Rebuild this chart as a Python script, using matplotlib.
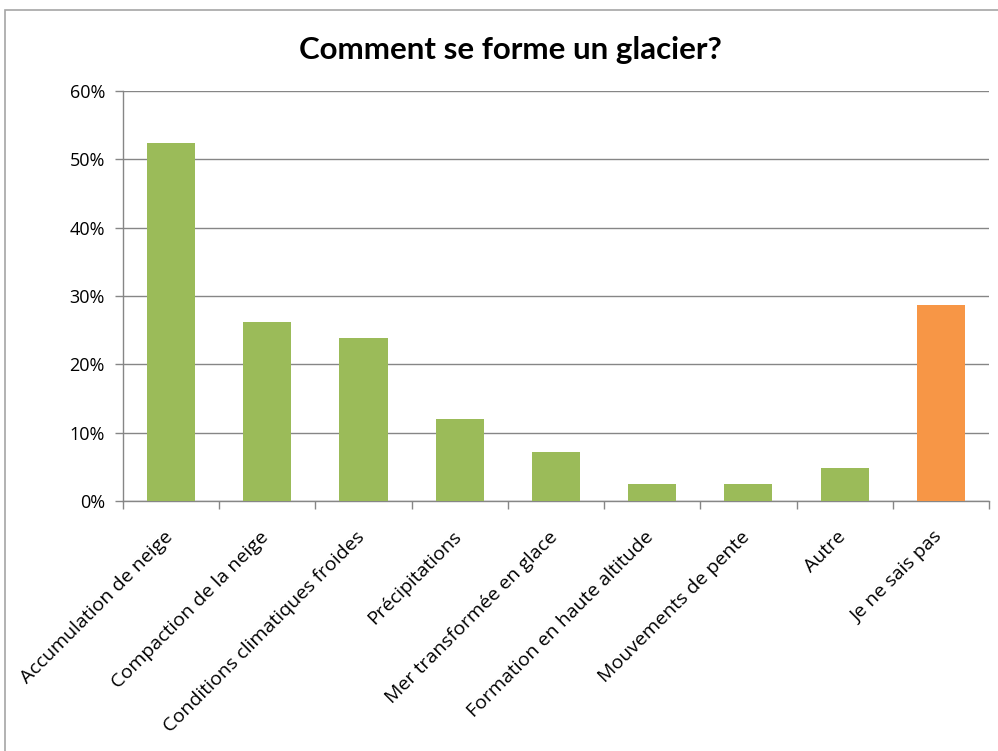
import matplotlib.pyplot as plt
from matplotlib.patches import Rectangle
from matplotlib.ticker import FuncFormatter, MultipleLocator
import numpy as np

categories = [
    "Accumulation de neige",
    "Compaction de la neige",
    "Conditions climatiques froides",
    "Précipitations",
    "Mer transformée en glace",
    "Formation en haute altitude",
    "Mouvements de pente",
    "Autre",
    "Je ne sais pas",
]
shares = [52.4, 26.2, 23.9, 12.0, 7.2, 2.5, 2.5, 4.8, 28.7]
bar_colors = ["#9bbb59"] * 8 + ["#f79646"]

plt.rcParams.update({
    "font.family": ["Open Sans", "DejaVu Sans"],
    "text.color": "#000000",
})

fig = plt.figure(figsize=(9.98, 7.51), dpi=100, facecolor="white")

# outer chart frame
fig.patches.append(Rectangle((5 / 998, -0.05), 1.2, 0.05 + (1 - 10 / 751),
                             transform=fig.transFigure, fill=False,
                             edgecolor="#a6a6a6", linewidth=1.2))

ax = fig.add_axes([123 / 998, 1 - 501 / 751, (989 - 123) / 998, (501 - 91) / 751])

x = np.arange(len(categories))
ax.bar(x, shares, width=0.5, color=bar_colors, zorder=3)

ax.set_xlim(-0.5, len(categories) - 0.5)
ax.set_ylim(0, 60)
ax.yaxis.set_major_locator(MultipleLocator(10))
ax.yaxis.set_major_formatter(FuncFormatter(lambda v, _: f"{v:.0f}%"))
ax.grid(axis="y", color="#868686", linewidth=1.0, zorder=0)

for side in ("top", "right"):
    ax.spines[side].set_visible(False)
for side in ("left", "bottom"):
    ax.spines[side].set_color("#868686")
    ax.spines[side].set_linewidth(1.0)

# category ticks sit on the boundaries between bars
ax.set_xticks(np.arange(len(categories) + 1) - 0.5)
ax.set_xticklabels([])
ax.tick_params(axis="x", length=6, color="#868686", width=1.0)
ax.tick_params(axis="y", length=6, color="#868686", width=1.0, labelsize=13, pad=7)

for xi, name in zip(x, categories):
    ax.text(xi - 0.08, -3.9, name, rotation=45, rotation_mode="anchor",
            ha="right", va="top", fontsize=14)

fig.text(510 / 998, 1 - 50 / 751, "Comment se forme un glacier?",
         ha="center", va="center", fontsize=22.5, fontweight="bold",
         family=["Lato", "DejaVu Sans"])

fig.savefig("out.png", dpi=100, facecolor="white")
